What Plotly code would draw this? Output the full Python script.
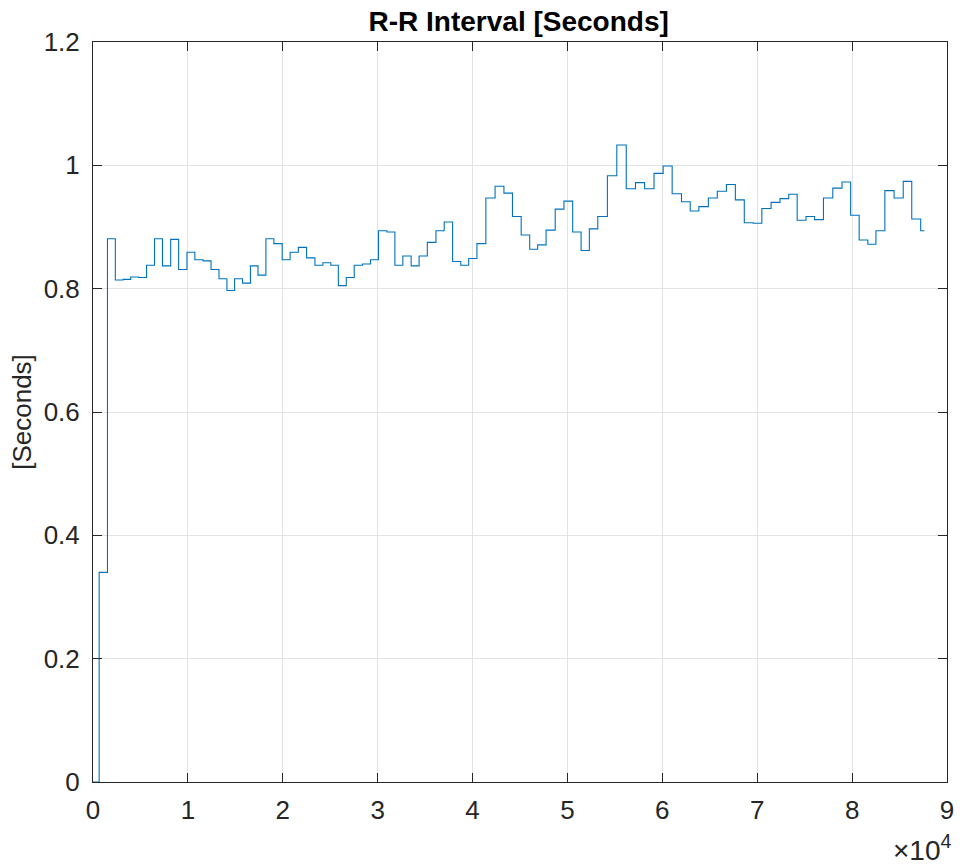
import plotly.graph_objects as go

# R-peak sample positions where each RR value starts (samples)
peak_samples = [
    0, 648, 1526, 2352, 3168, 3973, 4809, 5646, 6482, 7319,
    8186, 9023, 9901, 10737, 11605, 12441, 13278, 14114, 14919, 15756,
    16592, 17387, 18223, 19060, 19938, 20774, 21642, 22510, 23388, 24224,
    25061, 25855, 26692, 27528, 28407, 29243, 30079, 30978, 31815, 32651,
    33529, 34366, 35233, 36143, 37011, 37899, 38757, 39593, 40461, 41402,
    42374, 43305, 44204, 45124, 46023, 46860, 47749, 48711, 49631, 50551,
    51439, 52307, 53196, 54210, 55202, 56196, 57168, 58130, 59123, 60085,
    61036, 62019, 62939, 63849, 64852, 65793, 66755, 67696, 68637, 69578,
    70488, 71460, 72401, 73321, 74210, 75140, 76040, 76981, 77964, 78935,
    79845, 80744, 81654, 82511, 83452, 84424, 85386, 86285, 87226, 87635,
]

# RR interval held from each position (seconds)
rr_seconds = [
    0.0, 0.34, 0.881, 0.814, 0.815, 0.819, 0.818, 0.838, 0.881, 0.837,
    0.880, 0.831, 0.859, 0.847, 0.845, 0.831, 0.816, 0.797, 0.816, 0.809,
    0.837, 0.822, 0.881, 0.873, 0.847, 0.859, 0.867, 0.850, 0.838, 0.842,
    0.838, 0.805, 0.818, 0.838, 0.840, 0.847, 0.894, 0.892, 0.838, 0.853,
    0.837, 0.853, 0.875, 0.894, 0.908, 0.844, 0.838, 0.849, 0.873, 0.947,
    0.966, 0.955, 0.917, 0.887, 0.864, 0.871, 0.895, 0.929, 0.942, 0.892,
    0.862, 0.897, 0.917, 0.983, 1.033, 0.962, 0.972, 0.962, 0.987, 0.999,
    0.954, 0.941, 0.926, 0.933, 0.947, 0.958, 0.969, 0.944, 0.907, 0.906,
    0.930, 0.940, 0.946, 0.953, 0.911, 0.917, 0.912, 0.947, 0.963, 0.973,
    0.919, 0.879, 0.872, 0.894, 0.959, 0.947, 0.974, 0.913, 0.894, 0.894,
]

x_tick_vals = [0, 10000, 20000, 30000, 40000, 50000, 60000, 70000, 80000, 90000]
x_tick_text = ["0", "1", "2", "3", "4", "5", "6", "7", "8", "9"]
y_tick_vals = [0, 0.2, 0.4, 0.6, 0.8, 1.0, 1.2]
y_tick_text = ["0", "0.2", "0.4", "0.6", "0.8", "1", "1.2"]

FONT = "Liberation Sans, Arial, Helvetica, sans-serif"
AXIS_COLOR = "#262626"
GRID_COLOR = "#e3e3e3"

fig = go.Figure()
fig.add_trace(go.Scatter(
    x=peak_samples,
    y=rr_seconds,
    mode="lines",
    line=dict(shape="hv", color="#0072BD", width=1.1),
    showlegend=False,
))

axis_common = dict(
    showline=True,
    linecolor=AXIS_COLOR,
    linewidth=1,
    mirror="ticks",
    ticks="inside",
    ticklen=9,
    tickwidth=1,
    tickcolor=AXIS_COLOR,
    showgrid=True,
    gridcolor=GRID_COLOR,
    gridwidth=1,
    zeroline=False,
    tickfont=dict(family=FONT, size=26, color=AXIS_COLOR),
)

fig.update_xaxes(
    range=[0, 90000],
    tickmode="array",
    tickvals=x_tick_vals,
    ticktext=x_tick_text,
    ticklabelstandoff=5,
    **axis_common,
)
fig.update_yaxes(
    range=[0, 1.2],
    tickmode="array",
    tickvals=y_tick_vals,
    ticktext=y_tick_text,
    ticklabelstandoff=7,
    title=dict(text="[Seconds]", font=dict(family=FONT, size=26, color=AXIS_COLOR), standoff=4),
    **axis_common,
)

fig.update_layout(
    width=965,
    height=865,
    margin=dict(l=93, r=11, t=42, b=83),
    paper_bgcolor="white",
    plot_bgcolor="white",
    title=dict(
        text="<b>R-R Interval [Seconds]</b>",
        font=dict(family=FONT, size=28, color="black"),
        x=0.5375,
        xanchor="center",
        y=0.975,
        yanchor="middle",
    ),
    annotations=[
        dict(
            text="×10<sup>4</sup>",
            xref="paper", yref="paper",
            x=1.008, y=-0.062,
            xanchor="right", yanchor="top",
            showarrow=False,
            font=dict(family=FONT, size=28, color=AXIS_COLOR),
        )
    ],
)

fig.write_html("out.html")
